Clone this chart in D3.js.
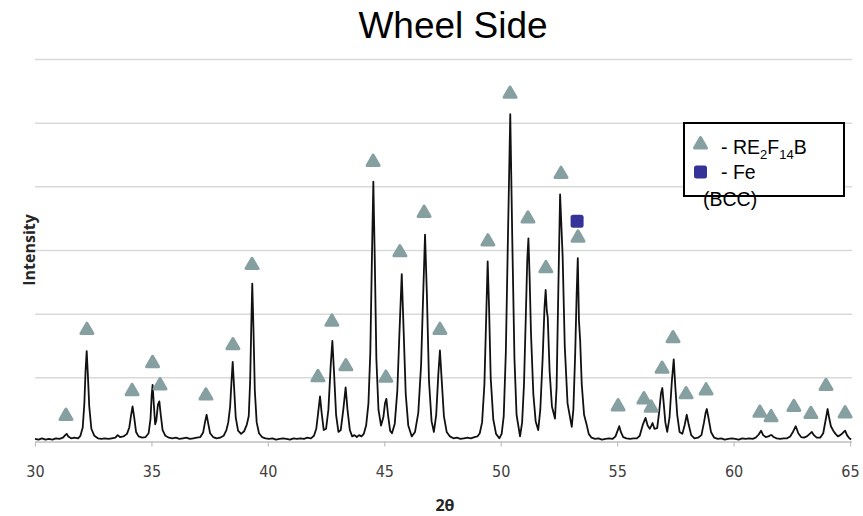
<!DOCTYPE html>
<html>
<head>
<meta charset="utf-8">
<script src="https://cdn.jsdelivr.net/npm/d3@7"></script>
<style>
  body { margin: 0; background: #fff; }
  svg { display: block; }
</style>
</head>
<body>
<svg id="chart" width="863" height="516"></svg>
<script>
// XRD pattern, wheel side of the ribbon: [2θ (deg), intensity (grid units)]
const pattern = [
  [30.00,0.04],[30.15,0.03],[30.30,0.05],[30.45,0.03],[30.60,0.04],[30.75,0.03],[30.90,0.05],[31.05,0.04],
  [31.20,0.06],[31.30,0.10],[31.36,0.12],[31.43,0.08],[31.55,0.05],[31.70,0.06],[31.85,0.05],[31.95,0.09],
  [32.05,0.22],[32.12,0.60],[32.17,1.10],[32.22,1.42],[32.27,1.05],[32.33,0.55],[32.42,0.20],[32.55,0.09],
  [32.70,0.05],[32.85,0.04],[33.00,0.05],[33.15,0.04],[33.30,0.05],[33.45,0.06],[33.55,0.10],[33.65,0.07],
  [33.80,0.08],[33.95,0.12],[34.05,0.22],[34.12,0.40],[34.19,0.55],[34.26,0.38],[34.34,0.15],[34.45,0.08],
  [34.60,0.06],[34.75,0.07],[34.88,0.13],[34.96,0.35],[35.01,0.72],[35.05,0.89],[35.10,0.60],[35.16,0.27],
  [35.21,0.33],[35.28,0.58],[35.34,0.63],[35.40,0.42],[35.48,0.18],[35.60,0.09],[35.75,0.06],[35.90,0.05],
  [36.05,0.06],[36.20,0.04],[36.35,0.05],[36.50,0.06],[36.65,0.04],[36.80,0.05],[36.95,0.06],[37.10,0.07],
  [37.22,0.14],[37.30,0.30],[37.37,0.42],[37.44,0.28],[37.52,0.13],[37.65,0.07],[37.80,0.05],[37.95,0.06],
  [38.10,0.09],[38.22,0.18],[38.30,0.30],[38.38,0.55],[38.44,0.95],[38.49,1.25],[38.55,0.85],[38.62,0.38],
  [38.72,0.17],[38.85,0.12],[38.98,0.16],[39.10,0.27],[39.18,0.40],[39.24,0.95],[39.29,1.85],[39.33,2.48],
  [39.38,1.80],[39.44,0.80],[39.52,0.30],[39.62,0.13],[39.75,0.07],[39.90,0.05],[40.05,0.04],[40.20,0.05],
  [40.35,0.03],[40.50,0.04],[40.65,0.05],[40.80,0.04],[40.95,0.03],[41.10,0.05],[41.25,0.04],[41.40,0.05],
  [41.55,0.04],[41.70,0.06],[41.85,0.05],[41.98,0.09],[42.08,0.20],[42.16,0.45],[42.24,0.71],[42.31,0.45],
  [42.40,0.18],[42.50,0.20],[42.60,0.50],[42.70,1.20],[42.77,1.58],[42.84,1.10],[42.93,0.42],[43.03,0.15],
  [43.13,0.18],[43.24,0.50],[43.34,0.85],[43.42,0.50],[43.52,0.18],[43.62,0.08],[43.72,0.10],[43.82,0.07],
  [43.92,0.10],[44.02,0.08],[44.12,0.12],[44.22,0.25],[44.32,0.60],[44.40,1.40],[44.47,2.90],[44.53,4.08],
  [44.59,2.90],[44.66,1.30],[44.75,0.50],[44.86,0.25],[44.96,0.38],[45.03,0.60],[45.09,0.67],[45.16,0.42],
  [45.25,0.17],[45.33,0.13],[45.45,0.28],[45.56,0.80],[45.65,1.70],[45.75,2.63],[45.83,1.75],[45.92,0.75],
  [46.03,0.25],[46.18,0.08],[46.32,0.15],[46.46,0.45],[46.58,1.20],[46.67,2.30],[46.75,3.25],[46.83,2.30],
  [46.92,0.95],[47.03,0.32],[47.13,0.15],[47.23,0.42],[47.32,1.05],[47.39,1.43],[47.46,1.00],[47.56,0.40],
  [47.68,0.15],[47.82,0.08],[47.97,0.05],[48.12,0.06],[48.27,0.04],[48.42,0.05],[48.57,0.06],[48.72,0.05],
  [48.87,0.07],[49.00,0.08],[49.10,0.13],[49.20,0.30],[49.30,0.90],[49.38,2.00],[49.44,2.83],[49.50,2.10],
  [49.57,1.00],[49.68,0.35],[49.80,0.12],[49.94,0.05],[50.04,0.12],[50.13,0.40],[50.22,1.40],[50.31,3.20],
  [50.41,5.14],[50.50,3.10],[50.59,1.30],[50.68,0.42],[50.83,0.08],[50.92,0.30],[51.00,0.90],[51.08,2.00],
  [51.14,2.85],[51.19,3.19],[51.24,2.60],[51.30,1.70],[51.40,0.75],[51.50,0.32],[51.61,0.18],[51.70,0.50],
  [51.80,1.30],[51.88,2.10],[51.93,2.38],[51.98,2.05],[52.02,1.95],[52.10,1.10],[52.20,0.55],[52.33,0.36],
  [52.40,0.85],[52.47,2.30],[52.55,3.88],[52.61,3.35],[52.66,2.90],[52.75,1.50],[52.87,0.60],[53.05,0.23],
  [53.12,0.50],[53.20,1.40],[53.26,2.30],[53.31,2.88],[53.36,1.90],[53.41,1.60],[53.48,0.90],[53.58,0.42],
  [53.68,0.28],[53.78,0.12],[53.90,0.06],[54.05,0.04],[54.20,0.05],[54.35,0.03],[54.50,0.04],[54.65,0.05],
  [54.80,0.04],[54.93,0.08],[55.02,0.17],[55.09,0.24],[55.16,0.15],[55.26,0.07],[55.40,0.05],[55.55,0.04],
  [55.70,0.05],[55.85,0.05],[55.97,0.09],[56.10,0.26],[56.22,0.37],[56.31,0.25],[56.40,0.20],[56.47,0.25],
  [56.52,0.29],[56.60,0.20],[56.72,0.21],[56.81,0.48],[56.88,0.75],[56.94,0.84],[57.00,0.60],[57.07,0.30],
  [57.15,0.15],[57.25,0.38],[57.35,0.95],[57.43,1.29],[57.50,0.85],[57.58,0.42],[57.68,0.15],[57.80,0.12],
  [57.90,0.26],[57.99,0.42],[58.07,0.27],[58.18,0.10],[58.32,0.05],[58.47,0.06],[58.62,0.10],[58.73,0.30],
  [58.80,0.45],[58.85,0.51],[58.92,0.38],[59.03,0.15],[59.17,0.06],[59.32,0.04],[59.47,0.05],[59.62,0.03],
  [59.77,0.04],[59.92,0.05],[60.07,0.04],[60.22,0.03],[60.37,0.05],[60.52,0.04],[60.67,0.05],[60.82,0.04],
  [60.95,0.06],[61.08,0.11],[61.18,0.17],[61.27,0.10],[61.38,0.07],[61.50,0.08],[61.58,0.10],[61.64,0.10],
  [61.72,0.07],[61.85,0.05],[62.00,0.04],[62.15,0.05],[62.30,0.05],[62.43,0.08],[62.55,0.15],[62.67,0.24],
  [62.78,0.13],[62.90,0.07],[63.02,0.06],[63.15,0.08],[63.27,0.12],[63.36,0.15],[63.45,0.10],[63.57,0.06],
  [63.72,0.06],[63.85,0.13],[63.95,0.33],[64.04,0.51],[64.10,0.38],[64.18,0.24],[64.28,0.17],[64.38,0.12],
  [64.48,0.08],[64.58,0.10],[64.68,0.13],[64.79,0.17],[64.87,0.10],[64.97,0.05],[65.05,0.03]
];

// RE2Fe14B reflections: marker position (2θ) and marker height (grid units)
const rePeak2Theta = [31.33,32.23,34.17,35.05,35.37,37.34,38.50,39.32,42.15,42.75,43.35,44.52,
                      45.07,45.67,46.71,47.39,49.45,50.40,51.17,51.94,52.59,53.32,55.04,56.15,
                      56.46,56.93,57.40,57.96,58.82,61.13,61.61,62.59,63.32,63.97,64.79];
const rePeakLevel  = [0.40,1.75,0.79,1.23,0.88,0.72,1.51,2.77,1.01,1.88,1.18,4.39,
                      1.00,2.97,3.59,1.75,3.14,5.46,3.50,2.72,4.20,3.20,0.55,0.66,
                      0.53,1.14,1.62,0.74,0.80,0.45,0.38,0.54,0.43,0.87,0.44];

// α-Fe (BCC) reflection
const fePeak2Theta = [53.28];
const fePeakLevel  = [3.46];

const xTicks = [30, 35, 40, 45, 50, 55, 60, 65];
const gridLevels = [1, 2, 3, 4, 5, 6];

const title = "Wheel Side";
const xLabel = "2θ";
const yLabel = "Intensity";

const reColor = "#86a0a2";
const feColor = "#333399";

const svg = d3.select("#chart");

const x = d3.scaleLinear().domain([30, 65]).range([35, 850]);
const y = d3.scaleLinear().domain([0, 6]).range([441.5, 59.5]);

// horizontal gridlines
svg.append("g")
  .selectAll("line")
  .data(gridLevels)
  .join("line")
  .attr("x1", 35).attr("x2", 852)
  .attr("y1", d => y(d)).attr("y2", d => y(d))
  .attr("stroke", "#d9d9d9")
  .attr("stroke-width", 1.5);

// x axis
const xAxis = svg.append("g")
  .attr("transform", `translate(0,${y(0)})`)
  .call(d3.axisBottom(x).tickValues(xTicks).tickSize(5).tickPadding(19).tickSizeOuter(0));
xAxis.select(".domain").attr("stroke", "#bfbfbf").attr("stroke-width", 1.3)
  .attr("d", `M35,0.5H852`);
xAxis.selectAll(".tick line").attr("stroke", "#bfbfbf").attr("stroke-width", 1.2);
xAxis.selectAll(".tick text")
  .attr("fill", "#404040")
  .style("font-family", "'DejaVu Sans Condensed', 'DejaVu Sans', sans-serif")
  .style("font-size", "16px");

// diffraction trace
const line = d3.line()
  .x(d => x(d[0]))
  .y(d => y(d[1]));

svg.append("path")
  .datum(pattern)
  .attr("fill", "none")
  .attr("stroke", "#111")
  .attr("stroke-width", 1.8)
  .attr("stroke-linejoin", "round")
  .attr("d", line);

// RE2Fe14B markers (rounded triangles)
const tri = d3.symbol().type(d3.symbolTriangle).size(62);
svg.append("g")
  .selectAll("path")
  .data(d3.zip(rePeak2Theta, rePeakLevel))
  .join("path")
  .attr("transform", d => `translate(${x(d[0])},${y(d[1])})`)
  .attr("d", tri)
  .attr("fill", reColor)
  .attr("stroke", reColor)
  .attr("stroke-width", 3)
  .attr("stroke-linejoin", "round");

// Fe (BCC) marker
svg.append("g")
  .selectAll("rect")
  .data(d3.zip(fePeak2Theta, fePeakLevel))
  .join("rect")
  .attr("x", d => x(d[0]) - 6.5)
  .attr("y", d => y(d[1]) - 6.5)
  .attr("width", 13).attr("height", 13)
  .attr("rx", 2.5)
  .attr("fill", feColor);

// title
svg.append("text")
  .attr("x", 453).attr("y", 38)
  .attr("text-anchor", "middle")
  .style("font-family", "'Liberation Sans', Arial, sans-serif")
  .style("font-size", "37px")
  .attr("fill", "#000")
  .text(title);

// axis titles
svg.append("text")
  .attr("x", 445).attr("y", 511)
  .attr("text-anchor", "middle")
  .style("font-family", "'Open Sans', Lato, sans-serif")
  .style("font-weight", "bold")
  .style("font-size", "16px")
  .attr("fill", "#262626")
  .text(xLabel);

svg.append("text")
  .attr("transform", "translate(35,250) rotate(-90)")
  .attr("text-anchor", "middle")
  .style("font-family", "'Open Sans', Lato, sans-serif")
  .style("font-weight", "bold")
  .style("font-size", "16px")
  .attr("fill", "#262626")
  .text(yLabel);

// legend
const legend = svg.append("g");
legend.append("rect")
  .attr("x", 684).attr("y", 123)
  .attr("width", 160).attr("height", 73)
  .attr("fill", "#fff")
  .attr("stroke", "#000")
  .attr("stroke-width", 2);

legend.append("path")
  .attr("transform", "translate(700.5,144.5)")
  .attr("d", tri)
  .attr("fill", reColor)
  .attr("stroke", reColor)
  .attr("stroke-width", 3)
  .attr("stroke-linejoin", "round");

legend.append("rect")
  .attr("x", 694).attr("y", 165.5)
  .attr("width", 13).attr("height", 13)
  .attr("rx", 2.5)
  .attr("fill", feColor);

const legendFont = "'Liberation Sans', Arial, sans-serif";
const reLabel = legend.append("text")
  .attr("x", 721).attr("y", 154)
  .style("font-family", legendFont)
  .style("font-size", "19.5px")
  .attr("fill", "#000");
reLabel.append("tspan").text("- RE");
reLabel.append("tspan").attr("dy", 5).style("font-size", "13px").text("2");
reLabel.append("tspan").attr("dy", -5).text("F");
reLabel.append("tspan").attr("dy", 5).style("font-size", "13px").text("14");
reLabel.append("tspan").attr("dy", -5).text("B");

legend.append("text")
  .attr("x", 721).attr("y", 179)
  .style("font-family", legendFont)
  .style("font-size", "19.5px")
  .attr("fill", "#000")
  .text("- Fe");

legend.append("text")
  .attr("x", 703).attr("y", 206)
  .style("font-family", legendFont)
  .style("font-size", "19.5px")
  .attr("fill", "#000")
  .text("(BCC)");
</script>
</body>
</html>
